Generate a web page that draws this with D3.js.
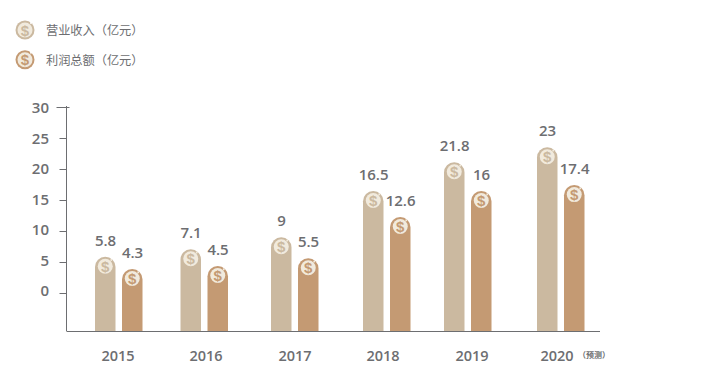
<!DOCTYPE html>
<html><head><meta charset="utf-8">
<script src="https://cdn.jsdelivr.net/npm/d3@7/dist/d3.min.js"></script>
<style>
html,body{margin:0;padding:0;background:#fff;}
svg{display:block;}
text{font-family:"Open Sans","Noto Sans CJK SC",sans-serif;fill:#6d6e71;}
</style></head><body>
<script>
const categories = ["2015","2016","2017","2018","2019","2020"];
const revenueLabels = ["5.8","7.1","9","16.5","21.8","23"];
const profitLabels = ["4.3","4.5","5.5","12.6","16","17.4"];
const revenueHeights = [5.85,7.05,9.0,16.45,21.1,23.5];
const profitHeights = [3.87,4.35,5.6,12.25,16.45,17.4];
const tickValues = [0,5,10,15,20,25,30];
const legendLabels = ["营业收入（亿元）","利润总额（亿元）"];
const colors = ["#cbb9a0","#c49a73"];
const groupCenters = [118.5,204,294.5,386.5,467.5,560.5];
const yearCenters = [118,206,295,383,472,557];

const W=705,H=386;
const svg=d3.select("body").append("svg").attr("width",W).attr("height",H);
const y=d3.scaleLinear().domain([0,30]).range([293,107]);
const yLabel=d3.scaleLinear().domain([0,30]).range([292.2,109.2]);
const x=d3.scaleOrdinal().domain(categories).range(groupCenters);
const xYear=d3.scaleOrdinal().domain(categories).range(yearCenters);
const bottom=331,barW=20.5;
const axisX=66.5;

const axisG=svg.append("g").attr("transform",`translate(${axisX},0)`);
axisG.append("line").attr("y1",y(30)-1).attr("y2",bottom).attr("stroke","#6d6e71");
axisG.selectAll(".t").data(tickValues).join("line")
  .attr("x1",d=>d===30?-10:-7).attr("x2",d=>d===30?3:0)
  .attr("y1",d=>Math.round(y(d))+.5).attr("y2",d=>Math.round(y(d))+.5).attr("stroke","#6d6e71");
axisG.selectAll(".l").data(tickValues).join("text")
  .attr("x",-17.5).attr("y",d=>yLabel(d)).attr("text-anchor","end").attr("dominant-baseline","middle")
  .attr("font-size",15).attr("font-weight",600).text(d=>d);
svg.append("line").attr("x1",axisX).attr("x2",600).attr("y1",331.5).attr("y2",331.5).attr("stroke","#6d6e71");

function coin(g,cx,cy,r,color,fs){
  const c=g.append("g").attr("transform",`translate(${cx},${cy})`);
  c.append("circle").attr("r",r).attr("fill","#f1eadd");
  c.append("text").attr("text-anchor","middle").attr("dominant-baseline","central")
   .attr("font-size",fs).attr("font-weight",700).style("font-family",'"Liberation Sans",sans-serif')
   .style("fill",color).text("$");
}
function series(heights,labels,color,dx){
  const g=svg.append("g");
  categories.forEach((cat,i)=>{
    const bx=x(cat)+dx, top=y(heights[i]), r=barW/2;
    g.append("path").attr("fill",color)
     .attr("d",`M${bx},${bottom}V${top+r}A${r},${r} 0 0 1 ${bx+barW},${top+r}V${bottom}Z`);
    g.append("circle").attr("cx",bx+r+6).attr("cy",top+r-7).attr("r",1).attr("fill","#f1eadd");
    coin(g,bx+r,top+9.5,7.5,color,15);
    g.append("text").attr("x",bx+r+.3).attr("y",top-15).attr("text-anchor","middle")
     .attr("dominant-baseline","middle").attr("font-size",15).attr("font-weight",600).text(labels[i]);
  });
}
series(revenueHeights,revenueLabels,colors[0],-23.5);
series(profitHeights,profitLabels,colors[1],3.5);

svg.selectAll(".c").data(categories).join("text")
  .attr("x",d=>xYear(d)).attr("y",357).attr("text-anchor","middle").attr("dominant-baseline","middle")
  .attr("font-size",14.5).attr("font-weight",600).text(d=>d);
svg.append("text").attr("x",578).attr("y",355.5).attr("font-size",8).attr("font-weight",700).attr("dominant-baseline","middle")
  .style("font-family",'"Noto Sans CJK SC",sans-serif').text("（预测）");

legendLabels.forEach((t,i)=>{
  const ly=30+i*29.7;
  const g=svg.append("g");
  g.append("circle").attr("cx",25).attr("cy",ly).attr("r",9.5).attr("fill",colors[i]);
  g.append("circle").attr("cx",31).attr("cy",ly-7).attr("r",1).attr("fill","#fff");
  coin(g,25,ly,7.5,colors[i],15);
  g.append("text").attr("x",46).attr("y",ly+1.5).attr("font-size",12.2).attr("dominant-baseline","middle")
   .style("font-family",'"Noto Sans CJK SC",sans-serif').text(t);
});
</script></body></html>
